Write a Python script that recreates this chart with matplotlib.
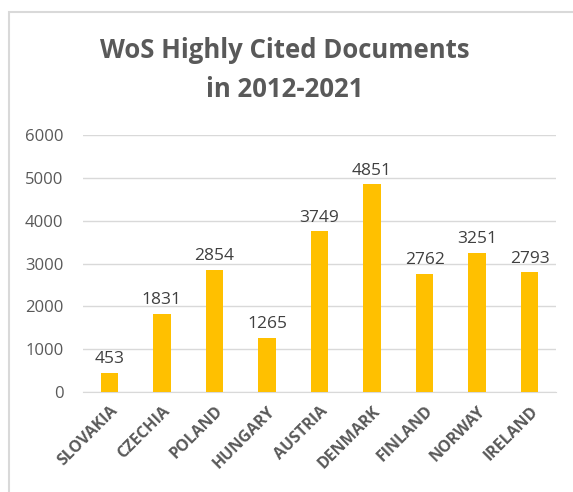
import matplotlib.pyplot as plt
from matplotlib.patches import Rectangle

countries = ["SLOVAKIA", "CZECHIA", "POLAND", "HUNGARY", "AUSTRIA",
             "DENMARK", "FINLAND", "NORWAY", "IRELAND"]
documents = [453, 1831, 2854, 1265, 3749, 4851, 2762, 3251, 2793]
yticks = [0, 1000, 2000, 3000, 4000, 5000, 6000]

plt.rcParams["font.family"] = ["Open Sans", "DejaVu Sans"]

fig = plt.figure(figsize=(5.73, 4.92), dpi=100)
ax = fig.add_axes([83 / 573, 1 - 392 / 492, (556 - 83) / 573, (392 - 135) / 492])

# chart frame (partially visible, like a cropped Excel chart)
fig.patches.append(Rectangle((9 / 573, -0.05), 1.1, 1 - 12 / 492 + 0.05,
                             transform=fig.transFigure, fill=False,
                             edgecolor="#d9d9d9", linewidth=1.5))

x = range(len(countries))
bars = ax.bar(x, documents, width=0.33, color="#FFC000", zorder=3)
for xi, v in zip(x, documents):
    ax.text(xi, v + 130, str(v), ha="center", va="bottom",
            fontsize=12.5, color="#404040")

ax.set_xlim(-0.5, len(countries) - 0.5)
ax.set_ylim(0, 6000)
ax.set_yticks(yticks)
ax.set_yticklabels([str(t) for t in yticks], fontsize=12, color="#595959")
ax.set_xticks(list(x))
ax.set_xticklabels(countries, rotation=45, ha="right", rotation_mode="anchor",
                   fontsize=11.5, fontweight="bold", color="#595959")
ax.tick_params(axis="both", length=0)
ax.tick_params(axis="y", pad=14)
ax.tick_params(axis="x", pad=8)
ax.grid(axis="y", color="#d9d9d9", linewidth=1, zorder=0)
for s in ["top", "right", "left"]:
    ax.spines[s].set_visible(False)
ax.spines["bottom"].set_color("#d9d9d9")

fig.text(0.497, 1 - 50 / 492, "WoS Highly Cited Documents", ha="center",
         va="center", fontsize=18.5, fontweight="bold", color="#595959")
fig.text(0.497, 1 - 90 / 492, "in 2012-2021", ha="center",
         va="center", fontsize=18.5, fontweight="bold", color="#595959")

fig.savefig("out.png", dpi=100)
